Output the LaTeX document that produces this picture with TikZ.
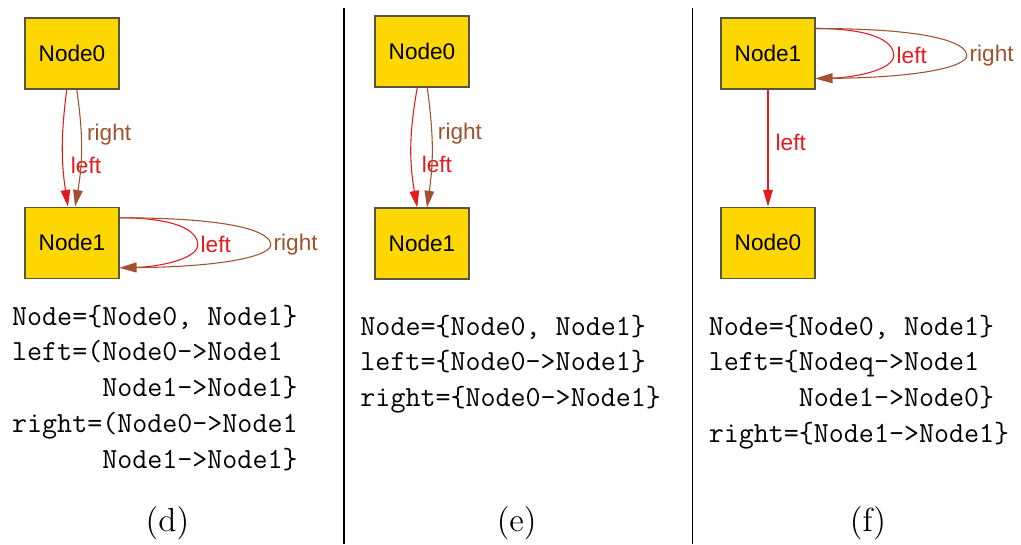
\documentclass[tikz,border=0pt]{standalone}
\usepackage{fontspec}
\usetikzlibrary{positioning,calc,arrows.meta}
\newfontfamily\graphfont{Liberation Sans}
\definecolor{gvgold}{RGB}{255,215,0}
\definecolor{gvline}{RGB}{88,84,62}
\definecolor{lftred}{RGB}{228,26,28}
\definecolor{rgtbrown}{RGB}{160,82,45}
\tikzset{>={Triangle[length=7pt,width=4pt]}}
\tikzset{
  gnode/.style={draw=gvline,line width=.6pt,fill=gvgold,minimum width=39.5pt,
    minimum height=29.8pt,font=\graphfont\fontsize{9.5}{11}\selectfont},
  lft/.style={->,color=lftred,line width=.45pt},
  rgt/.style={->,color=rgtbrown,line width=.45pt},
  lbl/.style={font=\graphfont\fontsize{9.5}{11}\selectfont,inner sep=1pt},
  code/.style={anchor=base west,inner sep=0pt,font=\ttfamily\fontsize{12.25}{15.1}\selectfont},
  caption/.style={anchor=base,font=\fontsize{14}{17}\selectfont},
  divider/.style={line width=.45pt}
}
\newcommand*{\selfloops}[1]{%
  \draw[lft] ($(#1.east)+(0,-25)$) .. controls +(52,0) and +(0,-16) .. ($(#1.east)+(78,2)$)
    node[lbl,right] {left} .. controls +(0,14) and +(40,-1) .. ($(#1.east)+(0,25)$);
  \draw[rgt] ($(#1.east)+(0,-25)$) .. controls +(115,0) and +(0,-13) .. ($(#1.east)+(151,2)$)
    node[lbl,right] {right} .. controls +(0,11) and +(105,-1) .. ($(#1.east)+(0,25)$);
}

\begin{document}
\begin{tikzpicture}[x=.42pt,y=-.42pt]
\useasboundingbox (0,0) rectangle (1021,544);
% (d)
\node[gnode] (A0) at (72,53.5) {Node0};
\node[gnode,below=49.1pt of A0] (A1) {Node1};
\draw[lft] ([xshift=-2.2pt]A0.south) to[bend right=8]
  node[lbl,pos=.66,anchor=west,xshift=2pt] {left} ([xshift=-1.7pt]A1.north);
\draw[rgt] ([xshift=2pt]A0.south) to[bend left=9]
  node[lbl,pos=.37,anchor=west,xshift=1.3pt] {right} ([xshift=1.3pt]A1.north);
\selfloops{A1}
\node[code] (Atext) at (11.7,325) {\begin{tabular}[t]{@{}l@{}}
  Node=\{Node0, Node1\}\\
  left=(Node0->Node1\\
  \phantom{left=(}Node1->Node1\}\\
  right=(Node0->Node1\\
  \phantom{left=(}Node1->Node1\}\end{tabular}};
\node[caption] (Acap) at (167.5,531) {(d)};
\draw[divider] (344,8) -- (344,544);
% (e)
\node[gnode] (B0) at (422,51.5) {Node0};
\node[gnode,below=50.3pt of B0] (B1) {Node1};
\draw[lft] ([xshift=-2pt]B0.south) to[bend right=10]
  node[lbl,pos=.65,anchor=west,xshift=3pt] {left} ([xshift=-2pt]B1.north);
\draw[rgt] ([xshift=2.2pt]B0.south) to[bend left=8]
  node[lbl,pos=.375,anchor=west,xshift=1.4pt] {right} ([xshift=2.1pt]B1.north);
\node[code] (Btext) at (360,335) {\begin{tabular}[t]{@{}l@{}}
  Node=\{Node0, Node1\}\\
  left=\{Node0->Node1\}\\
  right=\{Node0->Node1\}\end{tabular}};
\node[caption] (Bcap) at (516.7,531) {(e)};
\draw[divider] (692.7,8) -- (692.7,544);
% (f)
\node[gnode] (C1) at (768,53.5) {Node1};
\node[gnode,below=49.1pt of C1] (C0) {Node0};
\draw[lft] (C1) -- node[lbl,pos=.45,anchor=west,xshift=2pt] {left} (C0);
\selfloops{C1}
\node[code] (Ctext) at (708.3,335) {\begin{tabular}[t]{@{}l@{}}
  Node=\{Node0, Node1\}\\
  left=\{Nodeq->Node1\\
  \phantom{left=\{}Node1->Node0\}\\
  right=\{Node1->Node1\}\end{tabular}};
\node[caption] (Ccap) at (868,531) {(f)};
\end{tikzpicture}
\end{document}
